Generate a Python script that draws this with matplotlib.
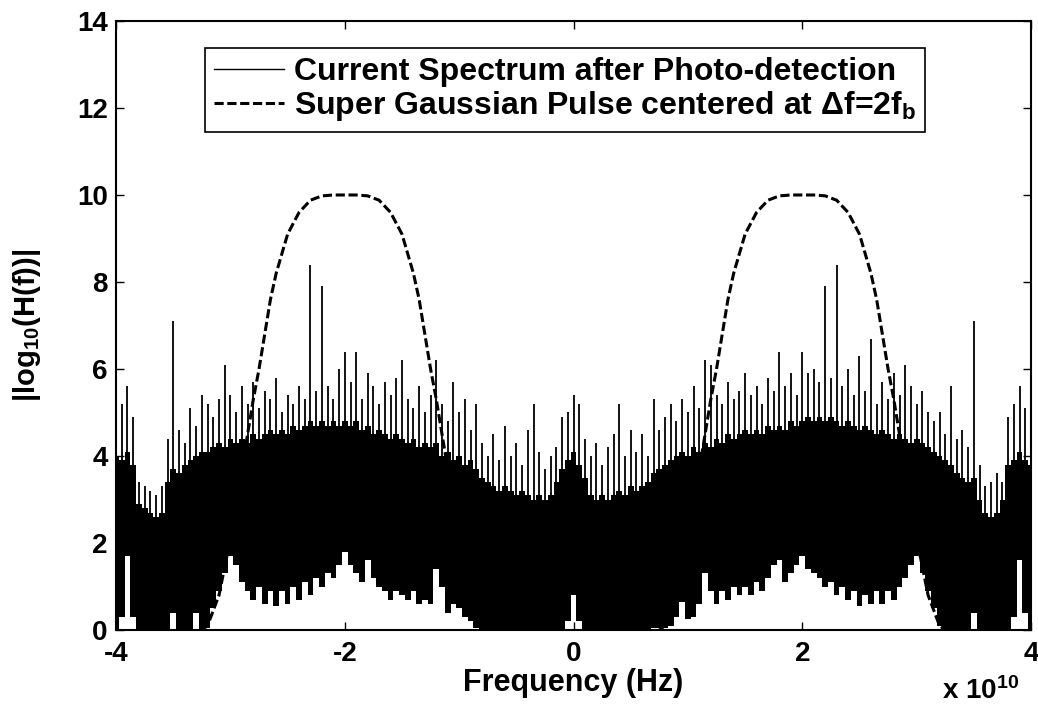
import numpy as np
import matplotlib
matplotlib.use("Agg")
import matplotlib.pyplot as plt

# ---------------- data (frequency in units of 1e10 Hz) ----------------
freq_start, freq_step, n_pts = -4.0, 0.05, 161

spec_lo = [0.0, 0.3, 1.7, 0.3, 0.0, 0.0, 0.0, 0.0, 0.0, 0.0,
           0.4, 0.0, 0.0, 0.0, 0.4, 0.0, 0.05, 0.5, 0.9, 1.3,
           1.7, 1.5, 1.1, 0.9, 0.7, 1.0, 0.6, 0.9, 0.55, 0.9,
           0.6, 1.0, 0.7, 1.1, 0.8, 1.2, 1.0, 1.3, 1.2, 1.5,
           1.8, 1.5, 1.3, 1.1, 1.6, 1.2, 1.0, 0.9, 0.7, 0.9,
           0.8, 0.7, 0.9, 0.6, 0.7, 0.6, 1.4, 1.0, 0.4, 0.6,
           0.5, 0.3, 0.2, 0.05, 0.0, 0.0, 0.0, 0.0, 0.0, 0.0,
           0.0, 0.0, 0.0, 0.0, 0.0, 0.0, 0.0, 0.0, 0.0, 0.2,
           0.8,
           0.2, 0.0, 0.0, 0.0, 0.0, 0.0, 0.0, 0.0, 0.0, 0.0,
           0.0, 0.0, 0.0, 0.05, 0.05, 0.05, 0.1, 0.3, 0.65, 0.25,
           0.3, 0.6, 1.3, 0.9, 0.6, 0.9, 0.7, 1.0, 0.8, 1.0,
           0.8, 1.1, 0.9, 1.2, 1.5, 1.6, 1.1, 1.3, 1.5, 1.7,
           1.4, 1.3, 1.2, 1.0, 1.1, 0.8, 1.0, 0.7, 0.9, 0.55,
           0.8, 0.6, 0.9, 0.6, 0.9, 0.7, 1.0, 1.2, 1.5, 1.7,
           1.3, 0.9, 0.5, 0.1, 0.0, 0.0, 0.0, 0.0, 0.0, 0.4,
           0.0, 0.0, 0.0, 0.0, 0.0, 0.0, 0.3, 1.6, 0.4, 0.0]

spec_mid = [4.0, 3.9, 4.1, 3.8, 2.9, 2.8, 2.7, 2.6, 2.7, 3.4,
            3.7, 3.6, 3.8, 3.9, 4.0, 4.1, 4.1, 4.2, 4.3, 4.2,
            4.4, 4.3, 4.4, 4.3, 4.5, 4.4, 4.5, 4.6, 4.5, 4.6,
            4.5, 4.7, 4.6, 4.7, 4.8, 4.7, 4.8, 4.7, 4.8, 4.7,
            4.8, 4.7, 4.8, 4.6, 4.7, 4.5, 4.6, 4.5, 4.4, 4.5,
            4.4, 4.3, 4.4, 4.2, 4.3, 4.2, 4.3, 4.0, 4.1, 3.9,
            4.0, 3.8, 3.9, 3.7, 3.5, 3.4, 3.3, 3.2, 3.3, 3.2,
            3.1, 3.2, 3.1, 3.0, 3.1, 3.0, 3.1, 3.4, 3.7, 3.9,
            4.1,
            3.8, 3.5, 3.1, 3.0, 3.1, 3.0, 3.1, 3.2, 3.1, 3.3,
            3.2, 3.3, 3.4, 3.6, 3.7, 3.8, 3.9, 4.0, 4.1, 4.0,
            4.2, 4.1, 4.3, 4.2, 4.4, 4.3, 4.5, 4.4, 4.5, 4.6,
            4.5, 4.6, 4.5, 4.7, 4.6, 4.7, 4.6, 4.8, 4.7, 4.8,
            4.9, 4.8, 4.9, 4.8, 4.9, 4.8, 4.7, 4.8, 4.7, 4.6,
            4.7, 4.6, 4.5, 4.6, 4.5, 4.4, 4.5, 4.4, 4.3, 4.4,
            4.3, 4.2, 4.1, 4.0, 3.9, 3.8, 3.6, 3.5, 3.4, 3.5,
            3.0, 2.7, 2.6, 2.7, 3.0, 3.8, 3.9, 4.1, 3.9, 3.8]

spec_hi = [4.3, 5.2, 5.6, 4.9, 3.4, 3.3, 3.2, 3.1, 3.3, 4.4,
           7.1, 4.6, 4.3, 5.1, 4.7, 5.4, 5.2, 4.9, 5.3, 6.1,
           5.4, 5.0, 5.6, 5.2, 5.7, 5.1, 5.5, 5.3, 5.8, 5.0,
           5.4, 5.2, 5.6, 5.3, 8.4, 5.5, 7.9, 5.6, 5.3, 6.0,
           6.4, 5.7, 6.4, 5.3, 5.9, 5.6, 5.2, 5.7, 5.4, 5.8,
           6.2, 5.3, 5.1, 5.6, 5.0, 5.4, 6.2, 5.2, 4.8, 5.7,
           5.0, 5.3, 4.6, 5.2, 4.3, 4.0, 4.5, 3.9, 4.7, 4.0,
           4.3, 3.8, 4.6, 5.2, 4.1, 3.7, 4.0, 4.2, 4.9, 5.0,
           5.4,
           5.2, 4.4, 4.0, 4.3, 3.8, 4.2, 4.5, 5.2, 4.0, 4.6,
           4.1, 4.5, 4.0, 5.3, 4.6, 4.9, 5.2, 4.8, 5.3, 5.0,
           5.6, 5.1, 6.2, 6.1, 5.4, 5.2, 5.7, 5.3, 5.5, 5.9,
           5.4, 5.6, 5.2, 5.8, 5.5, 6.4, 5.6, 5.9, 5.4, 6.4,
           5.9, 6.0, 5.7, 7.9, 5.8, 8.4, 5.6, 6.0, 5.4, 6.3,
           5.5, 6.7, 5.2, 5.7, 5.3, 5.9, 5.4, 6.1, 5.6, 5.2,
           5.5, 5.0, 4.8, 5.0, 4.5, 5.6, 4.4, 4.6, 4.2, 7.1,
           3.8, 3.3, 3.4, 3.6, 3.4, 4.9, 5.2, 5.6, 5.1, 4.2]

# super-Gaussian filter shape (offset from its centre, in 1e10 Hz)
sg_offset = [-1.25, -1.2, -1.1, -1.0, -0.9, -0.8, -0.75, -0.7, -0.65, -0.6,
             -0.5, -0.4, -0.3, -0.2, -0.1, 0.0, 0.1, 0.2, 0.3, 0.4,
             0.5, 0.6, 0.65, 0.7, 0.75, 0.8, 0.9, 1.0, 1.1, 1.2, 1.25]
sg_level = [0.0, 0.1, 0.8, 2.1, 3.7, 5.3, 6.0, 6.8, 7.6, 8.2,
            9.1, 9.6, 9.88, 9.98, 10.0, 10.0, 10.0, 9.98, 9.88, 9.6,
            9.1, 8.2, 7.6, 6.8, 6.0, 5.3, 3.7, 2.1, 0.8, 0.1, 0.0]
pulse_centers = [-2.0, 2.0]

x_ticks = [-4, -2, 0, 2, 4]
y_ticks = [0, 2, 4, 6, 8, 10, 12, 14]

label_spec = "Current Spectrum after Photo-detection"
label_sg = r"Super Gaussian Pulse centered at Δf=2f$_\mathbf{b}$"

# ---------------- style ----------------
plt.rcParams["font.family"] = ["Liberation Sans", "DejaVu Sans"]
plt.rcParams["font.weight"] = "bold"
plt.rcParams["mathtext.fontset"] = "custom"
plt.rcParams["mathtext.rm"] = "Liberation Sans:bold"
plt.rcParams["mathtext.bf"] = "Liberation Sans:bold"
plt.rcParams["mathtext.it"] = "Liberation Sans:bold"
FS_TICK = 20
FS_LABEL = 22
FS_LEG = 23

fig = plt.figure(figsize=(10.38, 7.04), dpi=100)
ax = fig.add_axes([0.1118, 0.1051, 0.8815, 0.8651])

freq = freq_start + freq_step * np.arange(n_pts)
lo = np.array(spec_lo)
mid = np.array(spec_mid)
hi = np.array(spec_hi)

ax.fill_between(freq, lo, mid, step="mid", color="black", lw=0, zorder=2)
ax.vlines(freq, mid, hi, color="black", lw=1.3, zorder=2)
ax.plot([], [], color="black", lw=1.0, label=label_spec)

for k, c in enumerate(pulse_centers):
    ax.plot(np.array(sg_offset) + c, sg_level, color="black", lw=2.2,
            dashes=(3.0, 1.2), zorder=3,
            label=label_sg if k == 0 else None)

ax.set_xlim(-4, 4)
ax.set_ylim(0, 14)
ax.set_xticks(x_ticks)
ax.set_xticklabels([str(t) for t in x_ticks])
ax.set_yticks(y_ticks)
ax.tick_params(direction="in", length=6, width=1.0, top=True, right=True,
               labelsize=FS_TICK)
ax.tick_params(axis="x", pad=8)
ax.tick_params(axis="y", pad=6)
for lab in ax.get_xticklabels() + ax.get_yticklabels():
    lab.set_fontweight("bold")
for s in ax.spines.values():
    s.set_linewidth(1.5)

ax.set_xlabel("Frequency (Hz)", fontsize=FS_LABEL, fontweight="bold")
ax.xaxis.set_label_coords(0.5, -0.062)
ax.set_ylabel(r"|log$_{\mathbf{10}}$(H(f))|", fontsize=21, fontweight="bold")
ax.yaxis.set_label_coords(-0.08, 0.5)

fig.text(942 / 1038, 0.007, r"x 10$^{\mathbf{10}}$", fontsize=20,
         fontweight="bold", ha="left", va="baseline")

leg = ax.legend(loc="upper left", bbox_to_anchor=(0.097, 0.956),
                fontsize=FS_LEG, frameon=True, fancybox=False, framealpha=1,
                edgecolor="black", handlelength=2.2, handletextpad=0.3,
                borderpad=0.28, labelspacing=0.08, borderaxespad=0)
leg.get_frame().set_linewidth(1.2)
for t in leg.get_texts():
    t.set_fontweight("bold")

fig.savefig("out.png", dpi=100)
